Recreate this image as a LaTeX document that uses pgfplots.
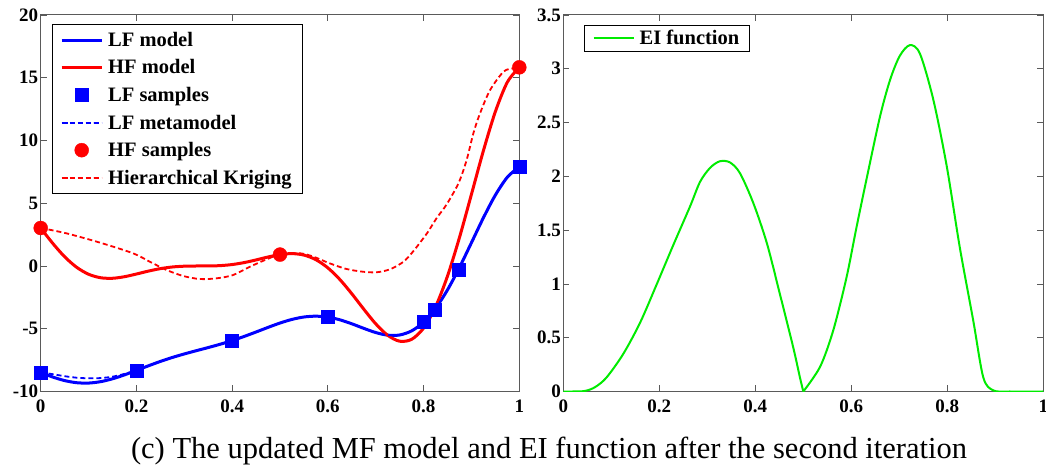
\documentclass[border=0pt]{standalone}
\usepackage{pgfplots}
\pgfplotsset{compat=1.18}
\usepackage{fontspec}
\setmainfont{Liberation Serif}
\definecolor{axgray}{RGB}{90,90,90}
\definecolor{mblue}{RGB}{0,0,255}
\definecolor{mred}{RGB}{255,0,0}
\definecolor{mgreen}{RGB}{0,235,0}
\pgfplotsset{
  myax/.style={
    scale only axis,
    anchor=south west,
    axis line style={axgray, line width=1pt},
    every tick/.style={axgray, line width=0.8pt},
    tick align=inside,
    major tick length=6pt,
    xtick pos=both, ytick pos=both,
    xmin=0, xmax=1,
    xtick={0,0.2,0.4,0.6,0.8,1},
    /pgf/number format/assume math mode=true,
    ticklabel style={font=\fontsize{19}{22}\selectfont\bfseries},
    yticklabel style={xshift=1pt},
    xticklabel style={yshift=-5pt},
    legend cell align=left,
    legend style={draw=black, font=\fontsize{20.5}{24}\selectfont\bfseries,
      inner xsep=8pt, inner ysep=6pt, row sep=7.8pt,
      /tikz/every odd column/.append style={column sep=3pt}},
    legend image code/.code={\draw[mark repeat=2,mark phase=2,#1] plot coordinates {(0pt,0pt) (20pt,0pt) (40pt,0pt)};},
  }
}
\begin{document}
\begin{tikzpicture}
\useasboundingbox (0pt,0pt) rectangle (1046pt,470pt);
\begin{axis}[myax,
  at={(40.7pt,78.5pt)}, width=478.6pt, height=376.5pt,
  ymin=-10, ymax=20, ytick={-10,-5,0,5,10,15,20},
  legend style={at={(0.0236,0.976)}, anchor=north west},
]
% LF model
\addplot[mblue, line width=3pt, smooth] coordinates {
(0,-8.487) (0.025,-8.844) (0.05,-9.131) (0.075,-9.300) (0.1,-9.328) (0.125,-9.218)
(0.15,-8.989) (0.175,-8.677) (0.2,-8.320) (0.225,-7.954) (0.25,-7.605) (0.275,-7.289)
(0.3,-7.008) (0.325,-6.750) (0.35,-6.499) (0.375,-6.235) (0.4,-5.943) (0.425,-5.615)
(0.45,-5.259) (0.475,-4.892) (0.5,-4.545) (0.525,-4.257) (0.55,-4.064) (0.575,-3.999)
(0.6,-4.075) (0.625,-4.287) (0.65,-4.605) (0.675,-4.969) (0.7,-5.303) (0.725,-5.511)
(0.75,-5.497) (0.775,-5.172) (0.8,-4.475) (0.825,-3.377) (0.85,-1.899) (0.875,-0.114)
(0.9,1.856) (0.925,3.844) (0.95,5.652) (0.975,7.074) (1,7.915)};
\addlegendentry{LF model}
% HF model
\addplot[mred, line width=3pt, smooth] coordinates {
(0,3.027) (0.025,1.813) (0.05,0.738) (0.075,-0.100) (0.1,-0.657) (0.125,-0.935)
(0.15,-0.978) (0.175,-0.854) (0.2,-0.640) (0.225,-0.407) (0.25,-0.210) (0.275,-0.079)
(0.3,-0.016) (0.325,0.000) (0.35,0.002) (0.375,0.030) (0.4,0.115) (0.425,0.270)
(0.45,0.483) (0.475,0.717) (0.5,0.909) (0.525,0.986) (0.55,0.871) (0.575,0.503)
(0.6,-0.149) (0.625,-1.074) (0.65,-2.209) (0.675,-3.439) (0.7,-4.606) (0.725,-5.522)
(0.75,-5.993) (0.775,-5.845) (0.8,-4.949) (0.825,-3.254) (0.85,-0.799) (0.875,2.272)
(0.9,5.712) (0.925,9.188) (0.95,12.303) (0.975,14.647) (1,15.830)};
\addlegendentry{HF model}
% LF samples
\addplot[only marks, mark=square*, mark size=6.5pt, mblue] coordinates {
(0,-8.487) (0.2,-8.320) (0.4,-5.943) (0.6,-4.075) (0.8,-4.475) (0.8225,-3.505) (0.8725,-0.303) (1,7.915)};
\addlegendentry{LF samples}
% LF metamodel
\addplot[mblue, line width=1.8pt, dash pattern=on 5pt off 3pt, smooth] coordinates {
(0,-8.487) (0.025,-8.62) (0.05,-8.78) (0.075,-8.90) (0.1,-8.95) (0.125,-8.93)
(0.15,-8.82) (0.175,-8.60) (0.2,-8.320) (0.225,-7.954) (0.25,-7.605) (0.275,-7.289)
(0.3,-7.008) (0.325,-6.750) (0.35,-6.499) (0.375,-6.235) (0.4,-5.943) (0.425,-5.615)
(0.45,-5.259) (0.475,-4.892) (0.5,-4.545) (0.525,-4.257) (0.55,-4.064) (0.575,-3.999)
(0.6,-4.075) (0.625,-4.287) (0.65,-4.605) (0.675,-4.969) (0.7,-5.303) (0.725,-5.511)
(0.75,-5.497) (0.775,-5.172) (0.8,-4.475) (0.825,-3.377) (0.85,-1.899) (0.875,-0.114)
(0.9,1.856) (0.925,3.844) (0.95,5.652) (0.975,7.074) (1,7.915)};
\addlegendentry{LF metamodel}
% HF samples
\addplot[only marks, mark=*, mark size=7pt, mred] coordinates {
(0,3.027) (0.5,0.909) (1,15.830)};
\addlegendentry{HF samples}
% Hierarchical Kriging
\addplot[mred, line width=1.8pt, dash pattern=on 5pt off 3pt, smooth] coordinates {
(0,3.03) (0.054,2.6) (0.124,1.86) (0.193,1.01) (0.228,0.34) (0.263,-0.32)
(0.298,-0.80) (0.333,-1.04) (0.368,-0.98) (0.402,-0.72) (0.437,-0.06) (0.472,0.53)
(0.5,0.91) (0.542,1.01) (0.57,0.74) (0.604,0.21) (0.639,-0.24) (0.674,-0.46)
(0.702,-0.50) (0.730,-0.26) (0.758,0.34) (0.779,1.2) (0.807,2.6) (0.827,3.8)
(0.848,4.9) (0.873,6.6) (0.890,8.45) (0.904,10.57) (0.918,12.17) (0.939,14.02)
(0.967,15.48) (0.987,15.75) (1.0,15.83)};
\addlegendentry{Hierarchical Kriging}
\end{axis}
\begin{axis}[myax,
  at={(563.3pt,78.5pt)}, width=480pt, height=376.5pt,
  ymin=0, ymax=3.5, ytick={0,0.5,1,1.5,2,2.5,3,3.5},
  yticklabel style={/pgf/number format/fixed},
  legend style={at={(0.044,0.973)}, anchor=north west, inner ysep=3pt},
]
\addplot[mgreen, line width=2pt, smooth] coordinates {
(0,0) (0.02,0) (0.045,0.005) (0.066,0.04) (0.09,0.13) (0.125,0.35) (0.16,0.64)
(0.194,0.99) (0.229,1.36) (0.264,1.72) (0.285,1.95) (0.306,2.08) (0.326,2.14)
(0.347,2.13) (0.368,2.03) (0.396,1.75) (0.424,1.38) (0.451,0.91) (0.479,0.41)
(0.493,0.13) (0.5,0)};
\addlegendentry{EI function}
\addplot[mgreen, line width=2pt, smooth, forget plot] coordinates {
(0.5,0) (0.535,0.23) (0.5625,0.57) (0.59,1.06) (0.611,1.53) (0.632,1.98)
(0.660,2.56) (0.681,2.90) (0.701,3.12) (0.722,3.22) (0.743,3.14) (0.771,2.71)
(0.799,2.09) (0.826,1.34) (0.854,0.66) (0.875,0.13) (0.896,0.01) (0.93,0) (1,0)};
\end{axis}
\node[font=\fontsize{30.5}{34}\selectfont, anchor=base] at (549pt,11.7pt) {(c) The updated MF model and EI function after the second iteration};
\end{tikzpicture}
\end{document}
